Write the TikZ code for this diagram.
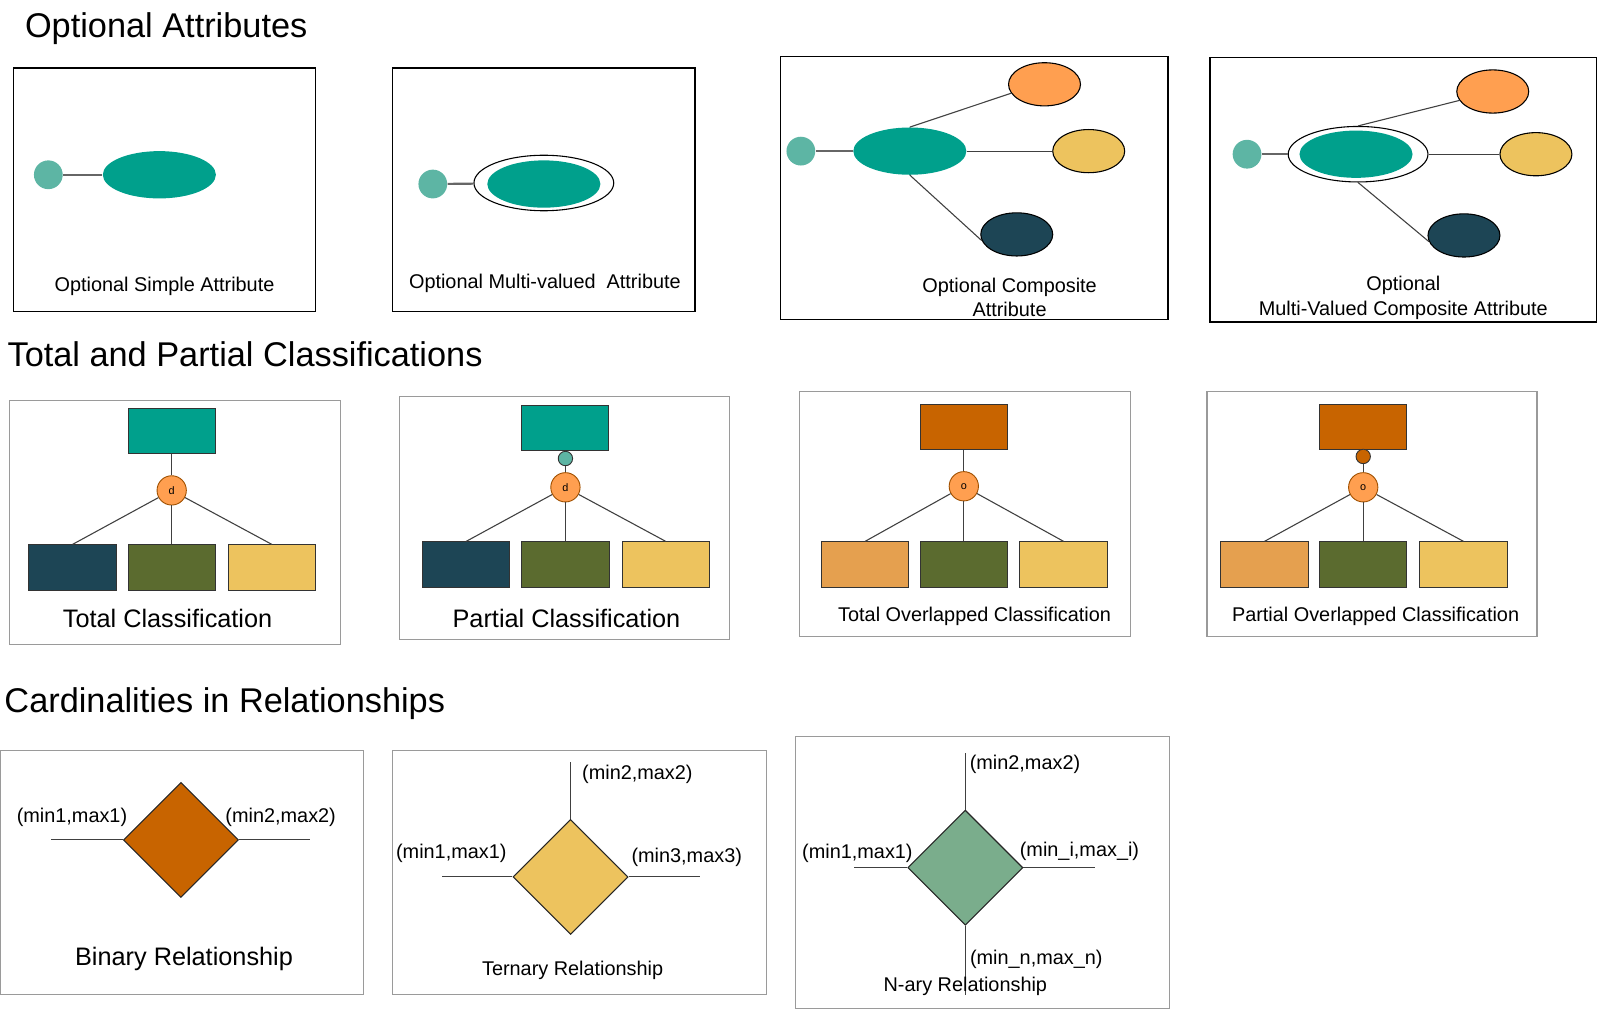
\documentclass[tikz,border=0pt]{standalone}
\usepackage{fontspec}
\setmainfont{Liberation Sans}
\usetikzlibrary{shapes.geometric}
\definecolor{erTeal}{HTML}{00A08C}
\definecolor{erTealLight}{HTML}{5DB5A4}
\definecolor{erOrange}{HTML}{FF9F50}
\definecolor{erYellow}{HTML}{EDC35E}
\definecolor{erNavy}{HTML}{1D4555}
\definecolor{erOlive}{HTML}{5B6B2F}
\definecolor{erRust}{HTML}{C86400}
\definecolor{erTan}{HTML}{E5A04F}
\definecolor{erSage}{HTML}{7AAD8C}
\definecolor{erFrame}{HTML}{9A9A9A}
\tikzset{frame black/.style={
    draw=black, line width=0.8pt
  },
  frame gray/.style={
    draw=erFrame, line width=0.6pt
  },
  attr main/.style={
    ellipse, fill=erTeal, inner sep=0pt,
    minimum width=2.2cm, minimum height=0.92cm
  },
  attr multi/.style={
    ellipse, draw=black, line width=0.6pt, fill=white, inner sep=0pt,
    minimum width=2.72cm, minimum height=1.08cm
  },
  attr opt/.style={
    circle, fill=erTealLight, inner sep=0pt, minimum size=0.56cm
  },
  attr part/.style={
    ellipse, draw=black, line width=0.6pt, fill=#1, inner sep=0pt,
    minimum width=1.4cm, minimum height=0.84cm
  },
  entity/.style={
    rectangle, draw=black!80, line width=0.5pt, fill=#1, inner sep=0pt,
    minimum width=1.7cm, minimum height=0.88cm
  },
  class mark/.style={
    circle, draw=erRust!80!black, line width=0.5pt, fill=erOrange, inner sep=0pt,
    minimum size=0.57cm, font=\fontsize{6}{6}\selectfont
  },
  part mark/.style={
    circle, draw=black!80, line width=0.5pt, fill=#1, inner sep=0pt,
    minimum size=0.28cm
  },
  relation/.style={
    diamond, draw=black!85, line width=0.6pt, fill=#1, inner sep=0pt,
    minimum width=2.24cm, minimum height=2.24cm
  },
  link/.style={draw=black!75, line width=0.6pt},
  opt link/.style={draw=black!60, line width=1.2pt},
  heading/.style={anchor=west, inner sep=0pt, yshift=-1.8pt, font=\fontsize{19}{22}\selectfont},
  caption/.style={align=center, yshift=-1.4pt, font=\fontsize{11}{13.6}\selectfont},
  caption big/.style={yshift=-0.8pt, font=\fontsize{14}{16}\selectfont},
  card/.style={yshift=-1.2pt, font=\fontsize{11}{13}\selectfont}
}

\begin{document}
\begin{tikzpicture}[x=0.02cm, y=-0.02cm]
  \useasboundingbox (0,0) rectangle (1568,990);

  % -- Optional attributes.
  \node[heading] (headAttr) at (24,25) {Optional Attributes};

  \draw[frame black] (13,66) rectangle (307,303);
  \node[attr opt] (simpleOpt) at (47,170) {};
  \node[attr main] (simpleAttr) at (155,170) {};
  \draw[opt link] (simpleOpt) -- (simpleAttr);
  \node[caption] (simpleCap) at (160,276) {Optional Simple Attribute};

  \draw[frame black] (382,66) rectangle (676,303);
  \node[attr opt] (multiOpt) at (421,179) {};
  \node[attr multi] (multiRing) at (529,178) {};
  \node[attr main] (multiAttr) at (529,179) {};
  \draw[opt link] (multiOpt) -- (multiRing);
  \node[caption] (multiCap) at (530,273) {Optional Multi-valued\ \ Attribute};

  \draw[frame black] (759,55) rectangle (1136,311);
  \node[attr opt] (compOpt) at (779,147) {};
  \node[attr main] (compAttr) at (885,147) {};
  \node[attr part=erOrange] (compA) at (1016,82) {};
  \node[attr part=erYellow] (compB) at (1059,147) {};
  \node[attr part=erNavy] (compC) at (989,228) {};
  \draw[opt link] (compOpt) -- (compAttr);
  \draw[link] (compAttr.north) -- (compA.195);
  \draw[link] (compAttr.east) -- (compB.west);
  \draw[link] (compAttr.south) -- (compC.190);
  \node[caption] (compCap) at (982,287) {Optional Composite\\Attribute};

  \draw[frame black] (1177,56) rectangle (1553,313);
  \node[attr opt] (mcompOpt) at (1213,150) {};
  \node[attr multi] (mcompRing) at (1321,150) {};
  \node[attr main] (mcompAttr) at (1319,150) {};
  \node[attr part=erOrange] (mcompA) at (1452,89) {};
  \node[attr part=erYellow] (mcompB) at (1494,150) {};
  \node[attr part=erNavy] (mcompC) at (1424,229) {};
  \draw[opt link] (mcompOpt) -- (mcompRing);
  \draw[link] (mcompRing.north) -- (mcompA.195);
  \draw[link] (mcompRing.east) -- (mcompB.west);
  \draw[link] (mcompRing.south) -- (mcompC.190);
  \node[caption] (mcompCap) at (1365,287) {Optional\\Multi-Valued Composite Attribute};

  % -- Total and partial classifications.
  \node[heading] (headClass) at (7,341) {Total and Partial Classifications};

  \draw[frame gray] (9,390) rectangle (331,627);
  \node[entity=erTeal] (totSuper) at (167,419.5) {};
  \node[class mark] (totMark) at (167,477) {d};
  \node[entity=erNavy] (totSubA) at (70.5,552) {};
  \node[entity=erOlive] (totSubB) at (167,552) {};
  \node[entity=erYellow] (totSubC) at (264.5,552) {};
  \draw[link] (totSuper) -- (totMark);
  \draw[link] (totMark) -- (totSubA.north);
  \draw[link] (totMark) -- (totSubB.north);
  \draw[link] (totMark) -- (totSubC.north);
  \node[caption big] (totCap) at (163,600) {Total Classification};

  \draw[frame gray] (389,386) rectangle (710,622);
  \node[entity=erTeal] (parSuper) at (549.5,416.5) {};
  \node[part mark=erTealLight] (parOpt) at (550,446) {};
  \node[class mark] (parMark) at (550,474) {d};
  \node[entity=erNavy] (parSubA) at (453.5,549) {};
  \node[entity=erOlive] (parSubB) at (550,549) {};
  \node[entity=erYellow] (parSubC) at (647.5,549) {};
  \draw[link] (parSuper) -- (parOpt);
  \draw[link] (parOpt) -- (parMark);
  \draw[link] (parMark) -- (parSubA.north);
  \draw[link] (parMark) -- (parSubB.north);
  \draw[link] (parMark) -- (parSubC.north);
  \node[caption big] (parCap) at (551,600) {Partial Classification};

  \draw[frame gray] (778,381) rectangle (1100,619);
  \node[entity=erRust] (tovSuper) at (937.5,415) {};
  \node[class mark] (tovMark) at (937.5,473) {o};
  \node[entity=erTan] (tovSubA) at (841.5,549) {};
  \node[entity=erOlive] (tovSubB) at (937.5,549) {};
  \node[entity=erYellow] (tovSubC) at (1034.5,549) {};
  \draw[link] (tovSuper) -- (tovMark);
  \draw[link] (tovMark) -- (tovSubA.north);
  \draw[link] (tovMark) -- (tovSubB.north);
  \draw[link] (tovMark) -- (tovSubC.north);
  \node[caption] (tovCap) at (948,597) {Total Overlapped Classification};

  \draw[frame gray] (1174,381) rectangle (1495,619);
  \node[entity=erRust] (povSuper) at (1326,415) {};
  \node[part mark=erRust] (povOpt) at (1326,444) {};
  \node[class mark] (povMark) at (1326,474) {o};
  \node[entity=erTan] (povSubA) at (1230,549) {};
  \node[entity=erOlive] (povSubB) at (1326,549) {};
  \node[entity=erYellow] (povSubC) at (1423.5,549) {};
  \draw[link] (povSuper) -- (povOpt);
  \draw[link] (povOpt) -- (povMark);
  \draw[link] (povMark) -- (povSubA.north);
  \draw[link] (povMark) -- (povSubB.north);
  \draw[link] (povMark) -- (povSubC.north);
  \node[caption] (povCap) at (1338,597) {Partial Overlapped Classification};

  % -- Cardinalities in relationships.
  \node[heading] (headCard) at (4,681) {Cardinalities in Relationships};

  \draw[frame gray] (0.5,730) rectangle (354,967);
  \node[relation=erRust] (binRel) at (176,817) {};
  \coordinate (binL) at (50,817);
  \coordinate (binR) at (302,817);
  \draw[link] (binL) -- (binRel.west);
  \draw[link] (binRel.east) -- (binR);
  \node[card] (binCardA) at (70,793) {(min1,max1)};
  \node[card] (binCardB) at (273,793) {(min2,max2)};
  \node[caption big] (binCap) at (179,931) {Binary Relationship};

  \draw[frame gray] (382,730) rectangle (746,967);
  \node[relation=erYellow] (terRel) at (555,853) {};
  \coordinate (terL) at (430,853);
  \coordinate (terR) at (681,853);
  \coordinate (terT) at (555,741);
  \draw[link] (terL) -- (terRel.west);
  \draw[link] (terRel.east) -- (terR);
  \draw[link] (terRel.north) -- (terT);
  \node[card] (terCardB) at (620,751) {(min2,max2)};
  \node[card] (terCardA) at (439,828) {(min1,max1)};
  \node[card] (terCardC) at (668,832) {(min3,max3)};
  \node[caption] (terCap) at (557,941) {Ternary Relationship};

  \draw[frame gray] (774,716) rectangle (1138,981);
  \node[relation=erSage] (naryRel) at (939,844) {};
  \coordinate (naryL) at (831,844);
  \coordinate (naryR) at (1065,844);
  \coordinate (naryT) at (939,732);
  \coordinate (naryB) at (939,968);
  \draw[link] (naryL) -- (naryRel.west);
  \draw[link] (naryRel.east) -- (naryR);
  \draw[link] (naryRel.north) -- (naryT);
  \draw[link] (naryRel.south) -- (naryB);
  \node[card] (naryCardB) at (997,741) {(min2,max2)};
  \node[card] (naryCardA) at (834,828) {(min1,max1)};
  \node[card] (naryCardI) at (1050,826) {(min\_i,max\_i)};
  \node[card] (naryCardN) at (1008,931) {(min\_n,max\_n)};
  \node[caption] (naryCap) at (939,957) {N-ary Relationship};
\end{tikzpicture}
\end{document}
